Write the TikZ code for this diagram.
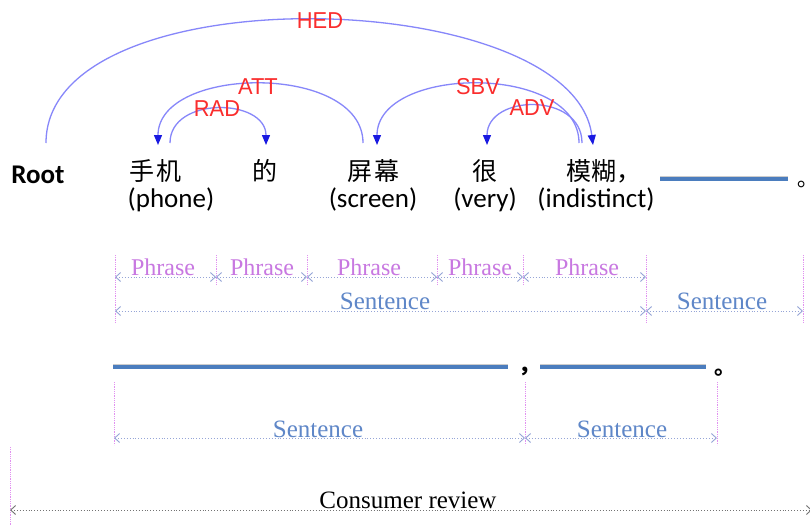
\documentclass[tikz,border=0pt]{standalone}
\usepackage{fontspec}
\usepackage{graphicx}
\setmainfont{Liberation Serif}
\newfontfamily\cjk{Noto Sans CJK SC}
\newfontfamily\calfont{Carlito}
\newfontfamily\labfont{Liberation Sans}
\usetikzlibrary{arrows.meta}
\definecolor{arcblue}{RGB}{135,135,250}
\definecolor{depblue}{RGB}{25,25,225}
\definecolor{labred}{RGB}{250,45,45}
\definecolor{phrasecol}{RGB}{200,120,225}
\definecolor{sentcol}{RGB}{95,135,200}
\definecolor{spanblue}{RGB}{150,165,215}
\definecolor{tickpink}{RGB}{225,145,240}
\definecolor{barblue}{RGB}{75,125,190}
\begin{document}
\begin{tikzpicture}[x=1pt,y=-1pt,
  dep/.style={draw=arcblue, line width=1.3pt, -{Triangle[length=10pt,width=8pt,color=depblue]}},
  deplab/.style={text=labred, font=\labfont\fontsize{23}{23}\selectfont, inner sep=0pt},
  cnword/.style={font=\cjk\fontsize{25}{25}\selectfont, anchor=base west, inner sep=0pt},
  gloss/.style={font=\calfont\fontsize{27}{27}\selectfont, anchor=base, inner sep=0pt},
  spanarrow/.style={draw=spanblue, line width=0.9pt, dotted, {Straight Barb[length=5pt,width=9pt,line width=0.9pt]}-{Straight Barb[length=5pt,width=9pt,line width=0.9pt]}},
  tickline/.style={draw=tickpink, densely dotted, line width=0.8pt},
  phraselab/.style={text=phrasecol, font=\fontsize{24}{24}\selectfont, anchor=base, inner sep=0pt},
  sentlab/.style={text=sentcol, font=\fontsize{25}{25}\selectfont, anchor=base, inner sep=0pt},
  bar/.style={draw=barblue, line width=3.2pt},
  barshadow/.style={draw=black!20, line width=2.5pt}
]
\useasboundingbox[fill=white] (0,0) rectangle (810,525);

% ---------- words ----------
\node[gloss, font=\calfont\bfseries\fontsize{27}{27}\selectfont] (root) at (38,183) {Root};
\node[cnword] (w1) at (129,180) {手\hspace{2pt}机};
\node[cnword] (w2) at (252,180) {的};
\node[cnword] (w3) at (347,180) {屏\hspace{2pt}幕};
\node[cnword] (w4) at (472,180) {很};
\node[cnword] (w5) at (566,180) {模糊，};
\node[gloss] (g1) at (171,207) {(phone)};
\node[gloss] (g3) at (373,207) {(screen)};
\node[gloss] (g4) at (485,207) {(very)};
\node[gloss] (g5) at (596,207) {(indistinct)};

% trailing blank and full stop
\coordinate (t1) at (660,179);
\coordinate (t2) at (788,179);
\draw[barshadow] ([yshift=2pt]t1) -- ([yshift=2pt]t2);
\draw[bar] (t1) -- (t2);
\node[cnword, font=\cjk\fontsize{22}{22}\selectfont] (stop1) at (797,186) {｡};

% ---------- dependency arcs ----------
\coordinate (rootT) at (46,143);
\coordinate (w1in) at (158,145);
\coordinate (w1out) at (170,143);
\coordinate (w2in) at (266,145);
\coordinate (w3in) at (377,145);
\coordinate (w3out) at (363,143);
\coordinate (w4in) at (487,145);
\coordinate (w5in) at (593,145);
\coordinate (w5outA) at (579,143);
\coordinate (w5outB) at (582,143);

\draw[dep] (rootT) .. controls +(0,-171) and +(-20,-160) .. (w5in);
\draw[dep] (w3out) .. controls +(0,-80) and +(0,-80) .. (w1in);
\draw[dep] (w1out) .. controls +(0,-47) and +(0,-47) .. (w2in);
\draw[dep] (w5outA) .. controls +(0,-80) and +(0,-80) .. (w3in);
\draw[dep] (w5outB) .. controls +(0,-51) and +(0,-51) .. (w4in);

\node[deplab] (lHED) at (320,21) {\scalebox{0.95}[1]{HED}};
\node[deplab] (lATT) at (258,87) {\scalebox{0.95}[1]{ATT}};
\node[deplab] (lRAD) at (217,109) {\scalebox{0.95}[1]{RAD}};
\node[deplab] (lSBV) at (478,87) {\scalebox{0.95}[1]{SBV}};
\node[deplab] (lADV) at (532,108) {\scalebox{0.95}[1]{ADV}};

% ---------- phrase / sentence spans (row 1) ----------
\foreach \n/\x in {a/115,f/646,g/803}{
  \coordinate (p\n top) at (\x,255);
  \coordinate (p\n bot) at (\x,322);
  \draw[tickline] (p\n top) -- (p\n bot);
}
\foreach \n/\x in {b/216,c/307,d/437,e/523}{
  \coordinate (p\n top) at (\x,255);
  \coordinate (p\n bot) at (\x,285);
  \draw[tickline] (p\n top) -- (p\n bot);
}
\foreach \n/\x in {a/115,b/216,c/307,d/437,e/523,f/646}{
  \coordinate (ph\n) at (\x,277);
}
\foreach \n/\x in {a/115,f/646,g/803}{
  \coordinate (se\n) at (\x,311);
}
\draw[spanarrow] (pha) -- (phb);
\draw[spanarrow] (phb) -- (phc);
\draw[spanarrow] (phc) -- (phd);
\draw[spanarrow] (phd) -- (phe);
\draw[spanarrow] (phe) -- (phf);
\draw[spanarrow] (sea) -- (sef);
\draw[spanarrow] (sef) -- (seg);

\node[phraselab] (ph1) at (163,275) {Phrase};
\node[phraselab] (ph2) at (262,275) {Phrase};
\node[phraselab] (ph3) at (369,275) {Phrase};
\node[phraselab] (ph4) at (480,275) {Phrase};
\node[phraselab] (ph5) at (587,275) {Phrase};
\node[sentlab] (s1) at (385,309) {Sentence};
\node[sentlab] (s2) at (722,309) {Sentence};

% ---------- row 2 ----------
\coordinate (b1a) at (113,367);
\coordinate (b1b) at (508,367);
\coordinate (b2a) at (540,367);
\coordinate (b2b) at (706,367);
\draw[barshadow] ([yshift=2pt]b1a) -- ([yshift=2pt]b1b);
\draw[barshadow] ([yshift=2pt]b2a) -- ([yshift=2pt]b2b);
\draw[bar] (b1a) -- (b1b);
\draw[bar] (b2a) -- (b2b);
\node[cnword, font=\cjk\bfseries\fontsize{22}{22}\selectfont] (comma2) at (518,372) {，};
\node[cnword, font=\cjk\bfseries\fontsize{22}{22}\selectfont] (stop2) at (714,374) {。};

\foreach \n/\x in {a/114,b/525,c/717}{
  \coordinate (r\n top) at (\x,382);
  \coordinate (r\n bot) at (\x,445);
  \draw[tickline] (r\n top) -- (r\n bot);
  \coordinate (rs\n) at (\x,438);
}
\draw[spanarrow] (rsa) -- (rsb);
\draw[spanarrow] (rsb) -- (rsc);
\node[sentlab] (s3) at (318,437) {Sentence};
\node[sentlab] (s4) at (622,437) {Sentence};

% ---------- consumer review ----------
\coordinate (crtop) at (10,447);
\coordinate (crbot) at (10,525);
\draw[tickline] (crtop) -- (crbot);
\coordinate (crl) at (10,510);
\coordinate (crr) at (812,510);
\draw[spanarrow, draw=black!55] (crl) -- (crr);
\node[sentlab, text=black] (cr) at (408,508) {Consumer review};
\end{tikzpicture}
\end{document}
